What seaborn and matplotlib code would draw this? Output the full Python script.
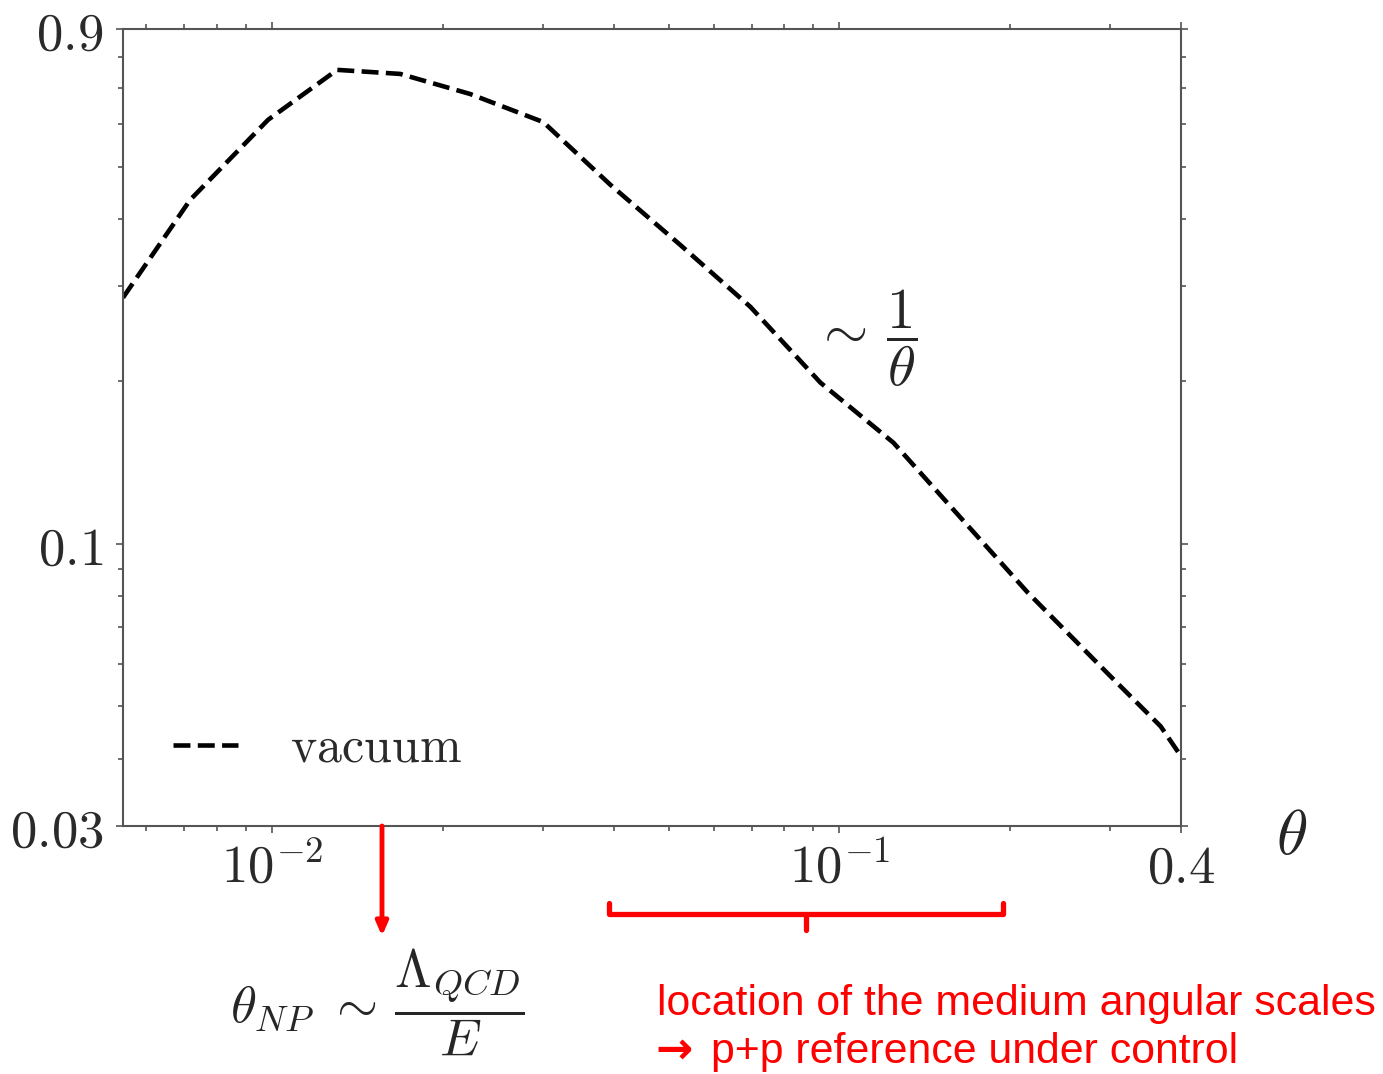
import numpy as np
import pandas as pd
import matplotlib
matplotlib.use("Agg")
import matplotlib.pyplot as plt
import seaborn as sns
from matplotlib.ticker import FixedLocator, NullFormatter
from matplotlib.lines import Line2D

# ---------------- data ----------------
theta = [0.00546, 0.00717, 0.00984, 0.01302, 0.01682, 0.02234, 0.03006,
         0.03946, 0.05244, 0.06966, 0.09257, 0.1245, 0.2146, 0.3006,
         0.3683, 0.4]
vacuum = [0.286, 0.434, 0.611, 0.756, 0.743, 0.682, 0.605,
          0.463, 0.358, 0.275, 0.199, 0.154, 0.0813, 0.0568,
          0.0459, 0.0404]

x_major = [0.01, 0.1, 0.4]
x_major_labels = [r'$10^{-2}$', r'$10^{-1}$', r'$0.4$']
x_minor = [0.006, 0.007, 0.008, 0.009, 0.02, 0.03, 0.04, 0.05, 0.06,
           0.07, 0.08, 0.09, 0.2, 0.3]
y_major = [0.03, 0.1, 0.9]
y_major_labels = [r'$0.03$', r'$0.1$', r'$0.9$']
y_minor = [0.04, 0.05, 0.06, 0.07, 0.08, 0.09, 0.2, 0.3, 0.4, 0.5,
           0.6, 0.7, 0.8]

legend_label = r'$\mathrm{vacuum}$'
slope_text = r'$\sim\,\dfrac{1}{\theta}$'
xlabel_text = r'$\theta$'
np_text = r'$\theta_{NP}\ \sim\,\dfrac{\Lambda_{QCD}}{E}$'
red_line1 = "location of the medium angular scales"
red_arrow = "\u2192"
red_line2 = "p+p reference under control"

df = pd.DataFrame({"theta": theta, "vacuum": vacuum})

# ---------------- style ----------------
sns.set_style("ticks")
plt.rcParams['mathtext.fontset'] = 'cm'
plt.rcParams['font.family'] = ['DejaVu Sans']

W, H = 1383, 1074
fig = plt.figure(figsize=(W / 100, H / 100), dpi=100)
L, R, T, B = 123, 1181, 29, 826
ax = fig.add_axes([L / W, 1 - B / H, (R - L) / W, (B - T) / H])

sns.lineplot(data=df, x="theta", y="vacuum", ax=ax, color="black",
             linewidth=3.3, linestyle="--", label=legend_label,
             sort=False, estimator=None)

ax.set_xscale("log")
ax.set_yscale("log")
ax.set_xlim(0.00546, 0.4)
ax.set_ylim(0.03, 0.9)

spine_col = "#555555"
for s in ax.spines.values():
    s.set_visible(True)
    s.set_color(spine_col)
    s.set_linewidth(1.5)

ax.xaxis.set_major_locator(FixedLocator(x_major))
ax.xaxis.set_minor_locator(FixedLocator(x_minor))
ax.yaxis.set_major_locator(FixedLocator(y_major))
ax.yaxis.set_minor_locator(FixedLocator(y_minor))
ax.set_xticklabels(x_major_labels)
ax.set_yticklabels(y_major_labels)
ax.xaxis.set_minor_formatter(NullFormatter())
ax.yaxis.set_minor_formatter(NullFormatter())

ax.tick_params(which="both", direction="out", top=True, right=True,
               color=spine_col, width=1.2)
ax.tick_params(which="major", length=5)
ax.tick_params(which="minor", length=3.5)
ax.tick_params(axis="x", which="major", labelsize=38, pad=6, labelcolor="#2a2a2a")
ax.tick_params(axis="y", which="major", labelsize=38, pad=9, labelcolor="#2a2a2a")
ax.set_xlabel("")
ax.set_ylabel("")

leg = ax.legend(loc="center left", bbox_to_anchor=(173 / W, 1 - 748 / H),
                bbox_transform=fig.transFigure, frameon=False, fontsize=36,
                handlelength=1.3, handletextpad=1.05, borderpad=0,
                borderaxespad=0)
for t in leg.get_texts():
    t.set_color("#2a2a2a")

# annotations
fig.text(814 / W, 1 - 338 / H, slope_text, fontsize=41, va="center", ha="left")
fig.text(1292 / W, 1 - 836 / H, xlabel_text, fontsize=46, va="center", ha="center")
fig.text(230 / W, 1 - 1002 / H, np_text, fontsize=38, va="center", ha="left")
fig.text(657 / W, 1 - 1015 / H, red_line1, fontsize=30.8, color="red",
         va="baseline", ha="left", family=["Liberation Sans", "DejaVu Sans"])
fig.text(655 / W, 1 - 1063 / H, red_arrow, fontsize=32, color="red",
         va="baseline", ha="left", family=["DejaVu Sans"], weight="bold")
fig.text(711 / W, 1 - 1063 / H, red_line2, fontsize=30.8, color="red",
         va="baseline", ha="left", family=["Liberation Sans", "DejaVu Sans"])

# red arrow
ax.annotate("", xy=(382 / W, 1 - 936 / H), xytext=(382 / W, 1 - 826 / H),
            xycoords=fig.transFigure, textcoords=fig.transFigure,
            arrowprops=dict(arrowstyle="-|>,head_width=0.35,head_length=0.8",
                            color="red", lw=3.5, shrinkA=0, shrinkB=0),
            annotation_clip=False)

# red bracket
bx = [609, 609, 1003, 1003]
by = [903, 914, 914, 903]
fig.add_artist(Line2D([x / W for x in bx], [1 - y / H for y in by],
                      color="red", lw=3.8, solid_joinstyle="round",
                      solid_capstyle="round", transform=fig.transFigure))
fig.add_artist(Line2D([806 / W, 806 / W], [1 - 914 / H, 1 - 930 / H],
                      color="red", lw=3.8, solid_capstyle="round",
                      transform=fig.transFigure))

fig.savefig("out.png", dpi=100)
